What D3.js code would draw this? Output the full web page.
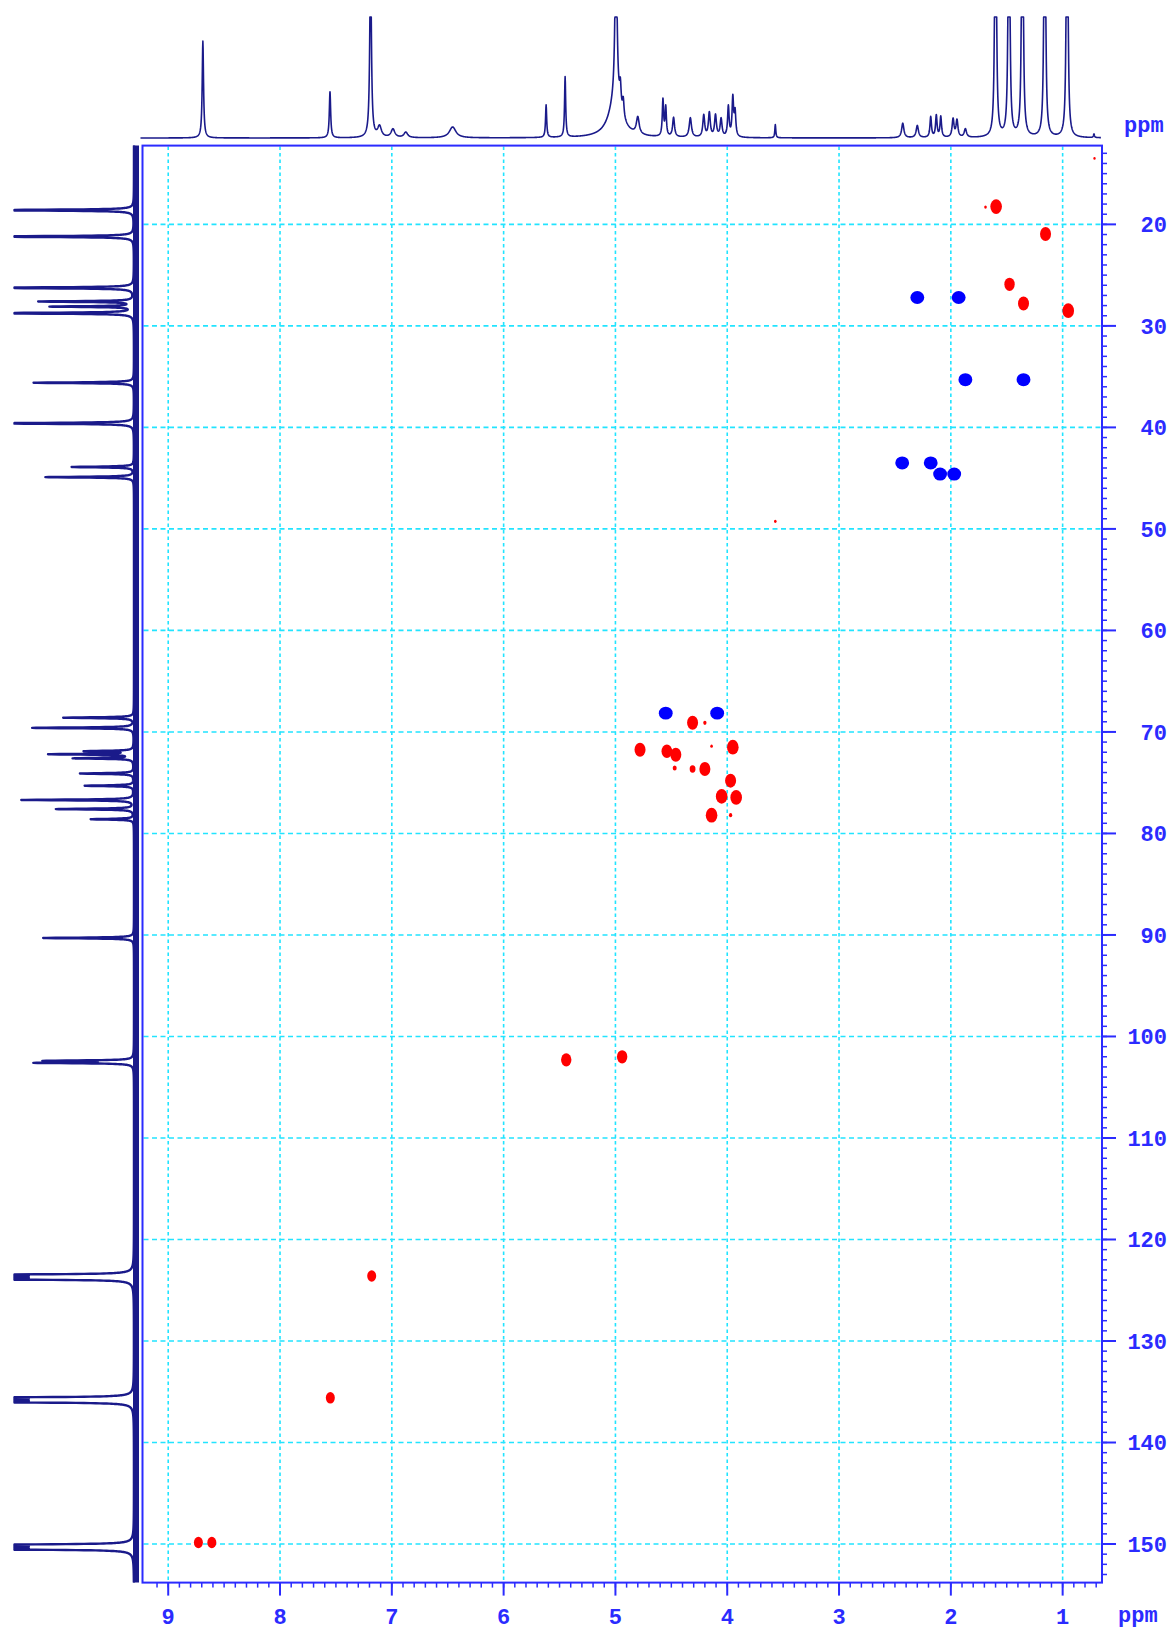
<!DOCTYPE html>
<html>
<head>
<meta charset="utf-8">
<script src="https://cdn.jsdelivr.net/npm/d3@7"></script>
<style>
	body { margin: 0; background: #fff; }
	svg { display: block; }
	.axis-text { font-family: "Liberation Mono", "DejaVu Sans Mono", monospace; font-weight: bold; font-size: 22px; fill: #2b2bff; }
</style>
</head>
<body>
<svg id="chart" width="1175" height="1631"></svg>
<script>
// 1H projection (top): [ppm, height (% of plot top), half width ppm]
const protonPeaks = [
	[8.69, 80, 0.007], [7.553, 38, 0.007], [7.19, 160, 0.008], [7.11, 9, 0.02],
	[6.99, 7, 0.02], [6.875, 4.5, 0.02], [6.456, 9, 0.035], [5.62, 27, 0.006],
	[5.45, 50, 0.006], [4.995, 150, 0.01], [5.00, 30, 0.07], [4.956, 18, 0.008],
	[4.93, 14, 0.008], [4.80, 14, 0.015], [4.575, 30, 0.007], [4.55, 24, 0.007],
	[4.48, 16, 0.01], [4.33, 16, 0.012], [4.21, 18, 0.01], [4.16, 20, 0.01],
	[4.105, 18, 0.01], [4.055, 15, 0.01], [3.99, 25, 0.008], [3.95, 32, 0.008],
	[3.93, 20, 0.008], [3.57, 11, 0.005], [2.43, 12, 0.012], [2.30, 10, 0.012],
	[2.18, 17, 0.008], [2.13, 18, 0.008], [2.09, 17, 0.008], [1.98, 15, 0.01],
	[1.945, 14, 0.01], [1.87, 7, 0.012], [1.60, 400, 0.006], [1.48, 400, 0.006],
	[1.36, 400, 0.006], [1.16, 400, 0.006], [0.96, 400, 0.006], [0.72, 3, 0.005]
];

// 13C projection (left): [ppm, height, half width ppm]
const carbonPeaks = [
	[18.6, 150, 0.05], [21.2, 150, 0.05], [26.25, 150, 0.05], [27.6, 79, 0.05],
	[28.1, 69, 0.05], [28.75, 150, 0.05], [35.6, 84, 0.05], [39.6, 150, 0.05],
	[43.9, 52, 0.05], [44.9, 74, 0.05], [68.6, 59, 0.05], [69.6, 85, 0.05],
	[71.9, 40, 0.05], [72.2, 70, 0.05], [72.6, 50, 0.05], [74.1, 45, 0.05],
	[75.3, 41, 0.05], [76.7, 94, 0.05], [77.6, 65, 0.05], [78.6, 36, 0.05],
	[90.3, 76, 0.05], [102.4, 72, 0.05], [102.6, 80, 0.05],
	[123.5, 300, 0.04], [123.7, 300, 0.04], [123.9, 300, 0.04],
	[135.6, 300, 0.04], [135.8, 300, 0.04], [136.0, 300, 0.04],
	[150.1, 300, 0.04], [150.3, 300, 0.04], [150.5, 300, 0.04]
];

// HSQC cross peaks: [1H ppm, 13C ppm, relative intensity]
const positivePeaks = [
	[0.715, 13.5, 0.04], [1.69, 18.3, 0.05], [1.595, 18.25, 1], [1.153, 20.95, 0.9],
	[1.475, 25.9, 0.8], [1.35, 27.8, 0.9], [0.95, 28.5, 1], [3.57, 49.25, 0.05],
	[4.31, 69.1, 0.9], [4.20, 69.1, 0.08], [4.78, 71.75, 0.9], [4.54, 71.9, 0.85],
	[4.46, 72.25, 0.9], [4.14, 71.4, 0.05], [3.95, 71.5, 1], [4.47, 73.55, 0.12],
	[4.31, 73.65, 0.25], [4.20, 73.65, 0.9], [3.97, 74.8, 0.9], [4.05, 76.35, 1],
	[3.92, 76.45, 1], [4.14, 78.2, 1], [3.97, 78.2, 0.08], [5.44, 102.3, 0.8],
	[4.94, 102.0, 0.8], [7.18, 123.6, 0.6], [7.55, 135.6, 0.6],
	[8.73, 149.85, 0.6], [8.61, 149.85, 0.6]
];
const negativePeaks = [
	[2.30, 27.2, 1], [1.93, 27.2, 1], [1.87, 35.3, 1], [1.35, 35.3, 1],
	[2.435, 43.5, 1], [2.18, 43.5, 1], [2.096, 44.6, 1], [1.97, 44.6, 1],
	[4.55, 68.15, 1], [4.09, 68.15, 1]
];

const xTicks = [9, 8, 7, 6, 5, 4, 3, 2, 1];
const yTicks = [20, 30, 40, 50, 60, 70, 80, 90, 100, 110, 120, 130, 140, 150];
const xDomain = [9.23, 0.648];
const yDomain = [12.24, 153.8];

const frame = { left: 142.5, right: 1102, top: 145.6, bottom: 1582.6 };
const axisBlue = "#2b2bff";
const navy = "#1a1a8a";
const gridCyan = "#22e4ff";

const svg = d3.select("#chart");

const x = d3.scaleLinear().domain(xDomain).range([frame.left, frame.right]);
const y = d3.scaleLinear().domain(yDomain).range([frame.top, frame.bottom]);

// lorentzian sum for a peak list, clipped at 100
function spectrum(peaks, from, to, step) {
	const pts = d3.range(Math.min(from, to), Math.max(from, to), step);
	peaks.forEach(p => pts.push(p[0]));
	pts.sort((a, b) => a - b);
	return pts.map(v => {
		let s = 0;
		peaks.forEach(([c, h, w]) => { s += h * w * w / ((v - c) * (v - c) + w * w); });
		return [v, Math.min(s, 100)];
	});
}

// grid
const grid = svg.append("g").attr("class", "grid");
grid.selectAll("line.v").data(xTicks).join("line")
	.attr("x1", d => x(d)).attr("x2", d => x(d))
	.attr("y1", frame.top + 1).attr("y2", frame.bottom - 1)
	.attr("stroke", gridCyan).attr("stroke-width", 1.6).attr("stroke-dasharray", "3.5,3");
grid.selectAll("line.h").data(yTicks).join("line")
	.attr("x1", frame.left + 1).attr("x2", frame.right - 1)
	.attr("y1", d => y(d)).attr("y2", d => y(d))
	.attr("stroke", gridCyan).attr("stroke-width", 1.6).attr("stroke-dasharray", "5,3.5");

// top 1H trace
const hTop = d3.scaleLinear().domain([0, 100]).range([138, 17]);
const topData = spectrum(protonPeaks, xDomain[0] + 0.02, xDomain[1] + 0.01, 0.002);
svg.append("path")
	.datum(topData)
	.attr("fill", "none").attr("stroke", navy).attr("stroke-width", 1.6)
	.attr("stroke-linejoin", "round")
	.attr("d", d3.line().x(d => x(d[0])).y(d => hTop(d[1])));

// left 13C trace
const hLeft = d3.scaleLinear().domain([0, 100]).range([134, 14.5]);
const leftData = spectrum(carbonPeaks, yDomain[0], yDomain[1], 0.01);
svg.append("line")
	.attr("x1", 136).attr("x2", 136).attr("y1", frame.top).attr("y2", frame.bottom)
	.attr("stroke", navy).attr("stroke-width", 6);
svg.append("path")
	.datum(leftData)
	.attr("fill", "none").attr("stroke", navy).attr("stroke-width", 2.4)
	.attr("stroke-linejoin", "round")
	.attr("d", d3.line().x(d => hLeft(d[1])).y(d => y(d[0])));

// cross peaks
const r = d3.scaleSqrt().domain([0, 1]).range([0, 6.6]);
svg.append("g").selectAll("ellipse").data(positivePeaks).join("ellipse")
	.attr("cx", d => x(d[0])).attr("cy", d => y(d[1]))
	.attr("rx", d => r(d[2]) * 0.88).attr("ry", d => r(d[2]) * 1.12)
	.attr("fill", "#ff0000");
svg.append("g").selectAll("ellipse").data(negativePeaks).join("ellipse")
	.attr("cx", d => x(d[0])).attr("cy", d => y(d[1]))
	.attr("rx", d => r(d[2]) * 1.05).attr("ry", d => r(d[2]) * 0.98)
	.attr("fill", "#0000ff");

// frame
svg.append("rect")
	.attr("x", frame.left).attr("y", frame.top)
	.attr("width", frame.right - frame.left).attr("height", frame.bottom - frame.top)
	.attr("fill", "none").attr("stroke", axisBlue).attr("stroke-width", 2);

// bottom axis
const xAxis = svg.append("g").attr("class", "xaxis");
xAxis.selectAll("line.minor").data(d3.range(7, 92).map(d => d / 10)).join("line")
	.attr("x1", d => x(d)).attr("x2", d => x(d))
	.attr("y1", frame.bottom).attr("y2", frame.bottom + 5)
	.attr("stroke", axisBlue).attr("stroke-width", 1.5);
xAxis.selectAll("line.major").data(xTicks).join("line")
	.attr("x1", d => x(d)).attr("x2", d => x(d))
	.attr("y1", frame.bottom).attr("y2", frame.bottom + 13)
	.attr("stroke", axisBlue).attr("stroke-width", 2);
xAxis.selectAll("text").data(xTicks).join("text")
	.attr("class", "axis-text")
	.attr("x", d => x(d)).attr("y", 1624)
	.attr("text-anchor", "middle")
	.text(d => d);

// right axis
const yAxis = svg.append("g").attr("class", "yaxis");
yAxis.selectAll("line.minor").data(d3.range(13, 154)).join("line")
	.attr("x1", frame.right).attr("x2", frame.right + 5)
	.attr("y1", d => y(d)).attr("y2", d => y(d))
	.attr("stroke", axisBlue).attr("stroke-width", 1.5);
yAxis.selectAll("line.major").data(yTicks).join("line")
	.attr("x1", frame.right).attr("x2", frame.right + 14)
	.attr("y1", d => y(d)).attr("y2", d => y(d))
	.attr("stroke", axisBlue).attr("stroke-width", 2);
yAxis.selectAll("text").data(yTicks).join("text")
	.attr("class", "axis-text")
	.attr("x", 1167).attr("y", d => y(d))
	.attr("dy", "0.36em")
	.attr("text-anchor", "end")
	.text(d => d);

// unit labels
svg.append("text").attr("class", "axis-text")
	.attr("x", 1118).attr("y", 1622).text("ppm");
svg.append("text").attr("class", "axis-text")
	.attr("x", 1124).attr("y", 132).text("ppm");
</script>
</body>
</html>
